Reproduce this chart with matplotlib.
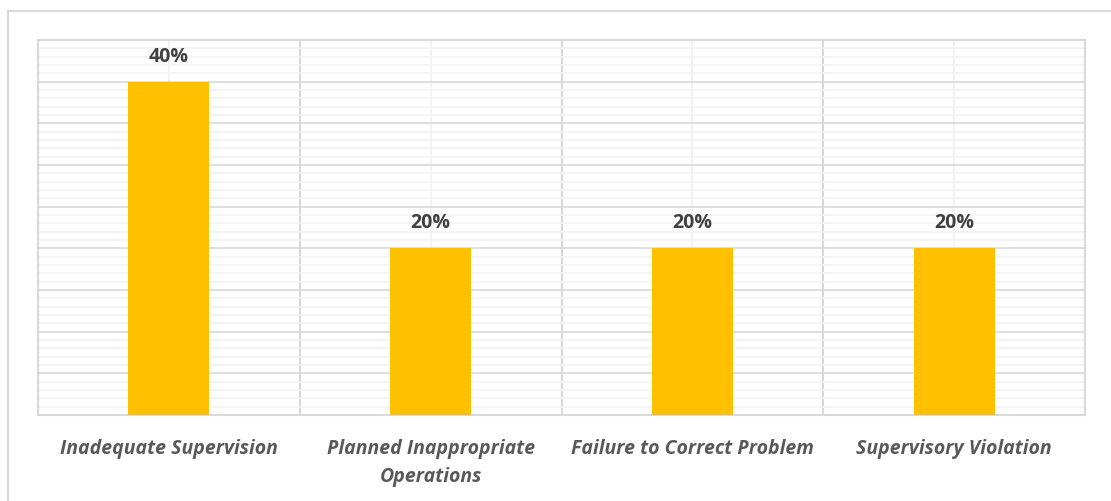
import numpy as np
import matplotlib.pyplot as plt
from matplotlib.patches import Rectangle
from matplotlib.ticker import MultipleLocator

categories = ["Inadequate Supervision", "Planned Inappropriate\nOperations",
              "Failure to Correct Problem", "Supervisory Violation"]
shares = [40, 20, 20, 20]
labels = ["40%", "20%", "20%", "20%"]

plt.rcParams['font.family'] = ['Open Sans', 'DejaVu Sans']

fig = plt.figure(figsize=(11.11, 5.01), dpi=100)
ax = fig.add_axes([38/1111, (501-415)/501, (1085-38)/1111, (415-40)/501])

# outer chart border
fig.patches.append(Rectangle((8/1111, -0.1), 1.2, (501-11)/501 + 0.1,
                             transform=fig.transFigure, fill=False,
                             edgecolor="#d9d9d9", linewidth=1.5))

x = np.arange(len(categories))
ax.bar(x, shares, width=0.31, color="#ffc000", zorder=3)
for xi, v, t in zip(x, shares, labels):
    ax.text(xi, v + 3, t, ha="center", va="center", fontsize=14,
            fontweight="bold", color="#404040", zorder=4)

ax.set_xlim(-0.5, len(categories) - 0.5)
ax.set_ylim(0, 45)

# gridlines
ax.yaxis.set_major_locator(MultipleLocator(5))
ax.yaxis.set_minor_locator(MultipleLocator(1))
ax.set_xticks(x)
ax.set_xticks(np.arange(-0.5, len(categories)), minor=True)
ax.grid(which="minor", axis="y", color="#f2f2f2", linewidth=1.2, zorder=0)
ax.grid(which="major", axis="y", color="#d9d9d9", linewidth=1.2, zorder=1)
ax.grid(which="major", axis="x", color="#f2f2f2", linewidth=1.5, zorder=0)
ax.grid(which="minor", axis="x", color="#d9d9d9", linewidth=1.5, zorder=1)

for s in ax.spines.values():
    s.set_color("#d9d9d9")
    s.set_linewidth(1.5)

ax.set_xticklabels(categories, fontsize=14, fontstyle="italic",
                   fontweight="bold", color="#595959", linespacing=1.55)
ax.tick_params(axis="x", which="both", length=0, pad=17)
ax.tick_params(axis="y", which="both", length=0, labelleft=False)

fig.savefig("out.png", dpi=100)
